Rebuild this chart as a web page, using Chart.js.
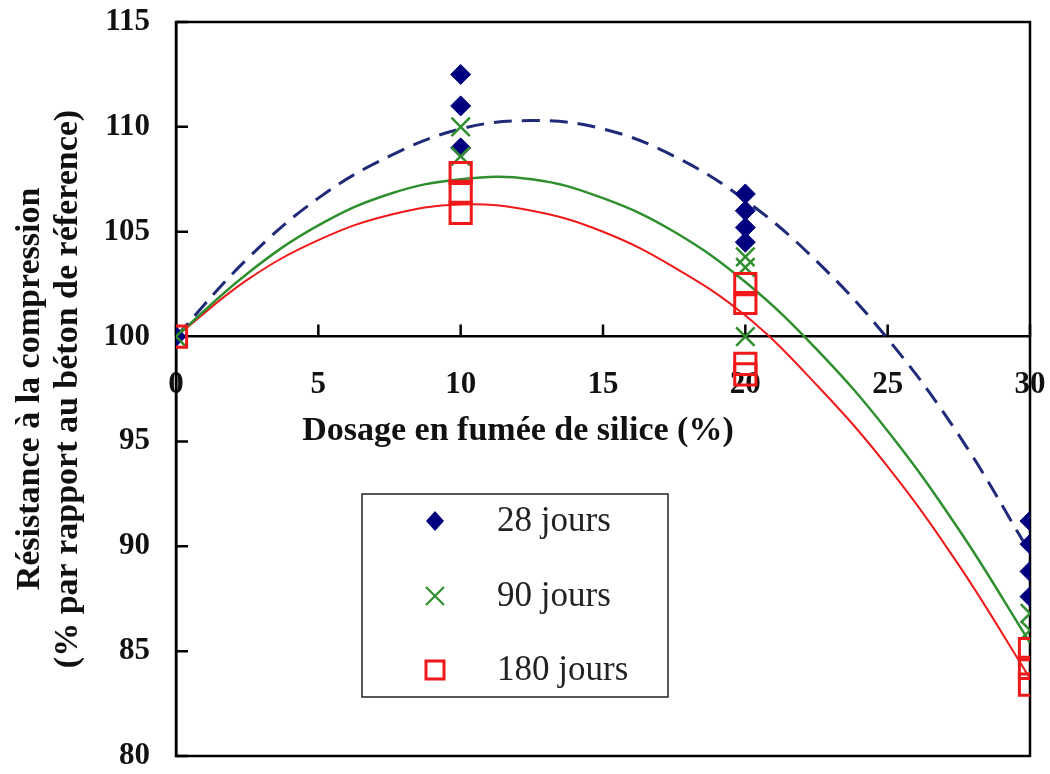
<!DOCTYPE html>
<html><head><meta charset="utf-8">
<script src="https://cdn.jsdelivr.net/npm/chart.js@4/dist/chart.umd.min.js"></script>
<style>html,body{margin:0;padding:0;background:#fff}</style>
</head><body>
<canvas id="c" width="1050" height="774"></canvas>
<script>
// ---- data ----
const seriesLabels = ['28 jours', '90 jours', '180 jours'];
const x28  = [0, 10, 10, 10, 20, 20, 20, 20, 30, 30, 30, 30];
const y28  = [100, 112.5, 111.0, 109.0, 106.8, 106.0, 105.2, 104.5, 91.2, 90.1, 88.8, 87.6];
const x90  = [0, 10, 10, 20, 20, 20, 30, 30];
const y90  = [100, 110.0, 108.6, 103.8, 103.3, 100.0, 86.8, 86.0];
const x180 = [0, 10, 10, 10, 20, 20, 20, 20, 30, 30, 30];
const y180 = [100, 107.8, 106.9, 105.9, 102.5, 101.6, 98.7, 98.2, 85.1, 84.2, 83.4];
// trend curves, read at regular dosage steps
const trendX   = [0, 2.5, 5, 7.5, 10, 12.5, 15, 17.5, 20, 22.5, 25, 27.5, 30];
const trend28  = [100, 103.7, 106.6, 108.6, 109.9, 110.3, 109.9, 108.6, 106.5, 103.6, 99.9, 95.3, 89.7];
const trend90  = [100, 103.0, 105.3, 106.8, 107.5, 107.5, 106.6, 105.0, 102.6, 99.4, 95.5, 90.8, 85.4];
const trend180 = [100, 102.7, 104.6, 105.8, 106.3, 106.0, 105.0, 103.3, 101.0, 97.7, 93.8, 89.1, 83.7];
const xTicks = [0, 5, 10, 15, 20, 25, 30];
const yTicks = [80, 85, 90, 95, 100, 105, 110, 115];
const xTitle = 'Dosage en fumée de silice (%)';
const yTitle = ['Résistance à la compression', '(% par rapport au béton de réference)'];

const NAVY = '#00007f', DASH = '#1f2a78', GREEN = '#2f8f2f', RED = '#f01818';
const SERIF = '"Liberation Serif", "Times New Roman", serif';

const pts = (xs, ys) => xs.map((x, i) => ({x: x, y: ys[i]}));
const noPad = s => { s.paddingTop = 0; s.paddingBottom = 0; s.paddingLeft = 0; s.paddingRight = 0; };

const frame = {
  id: 'frame',
  beforeDatasetsDraw(chart) {
    const {ctx, chartArea: a, scales: {x, y}} = chart;
    ctx.save();
    ctx.strokeStyle = '#000';
    ctx.lineWidth = 2.5;
    ctx.strokeRect(a.left, a.top, a.right - a.left, a.bottom - a.top);
    ctx.beginPath();
    y.ticks.forEach(t => { const py = y.getPixelForValue(t.value); ctx.moveTo(a.left, py); ctx.lineTo(a.left + 12, py); });
    const py0 = y.getPixelForValue(100);
    x.ticks.forEach(t => { const px = x.getPixelForValue(t.value); ctx.moveTo(px, py0); ctx.lineTo(px, py0 - 12); });
    ctx.stroke();
    // x axis title (sits left of centre in the reference)
    ctx.fillStyle = '#111';
    ctx.font = 'bold 34px ' + SERIF;
    ctx.textAlign = 'center';
    ctx.textBaseline = 'middle';
    ctx.fillText(xTitle, 518, py0 + 95);
    ctx.restore();
  }
};

const legendBox = {
  id: 'legendBox',
  afterDatasetsDraw(chart) {
    const ctx = chart.ctx;
    const L = 362, T = 494, R = 668, B = 697;
    ctx.save();
    ctx.fillStyle = '#fff';
    ctx.fillRect(L, T, R - L, B - T);
    ctx.strokeStyle = '#222';
    ctx.lineWidth = 1.5;
    ctx.strokeRect(L, T, R - L, B - T);
    const rows = [521, 596, 670];
    const mx = 435;
    ctx.fillStyle = NAVY;
    ctx.beginPath();
    ctx.moveTo(mx, rows[0] - 10); ctx.lineTo(mx + 9, rows[0]); ctx.lineTo(mx, rows[0] + 10); ctx.lineTo(mx - 9, rows[0]);
    ctx.closePath(); ctx.fill();
    ctx.strokeStyle = GREEN; ctx.lineWidth = 2.2;
    ctx.beginPath();
    ctx.moveTo(mx - 9, rows[1] - 9); ctx.lineTo(mx + 9, rows[1] + 9);
    ctx.moveTo(mx + 9, rows[1] - 9); ctx.lineTo(mx - 9, rows[1] + 9);
    ctx.stroke();
    ctx.strokeStyle = RED; ctx.lineWidth = 3;
    ctx.strokeRect(mx - 9, rows[2] - 9, 18, 18);
    ctx.fillStyle = '#222';
    ctx.font = '35px ' + SERIF;
    ctx.textBaseline = 'middle';
    ctx.textAlign = 'left';
    seriesLabels.forEach((s, i) => ctx.fillText(s, 497, rows[i] + 1));
    ctx.restore();
  }
};

new Chart(document.getElementById('c'), {
  type: 'scatter',
  data: {
    datasets: [
      {label: seriesLabels[0], data: pts(x28, y28), pointStyle: 'rectRot', pointRadius: 10,
       backgroundColor: NAVY, borderColor: NAVY, borderWidth: 1, order: 3},
      {label: seriesLabels[1], data: pts(x90, y90), pointStyle: 'crossRot', pointRadius: 13,
       backgroundColor: GREEN, borderColor: GREEN, borderWidth: 2.5, order: 2},
      {label: seriesLabels[2], data: pts(x180, y180), pointStyle: 'rect', pointRadius: 15,
       backgroundColor: 'rgba(0,0,0,0)', borderColor: RED, borderWidth: 3, order: 1},
      {type: 'line', label: 'tendance 28', data: pts(trendX, trend28), showLine: true, pointRadius: 0,
       borderColor: DASH, borderWidth: 3, borderDash: [18, 10], tension: 0.4, fill: false, order: 10},
      {type: 'line', label: 'tendance 90', data: pts(trendX, trend90), showLine: true, pointRadius: 0,
       borderColor: GREEN, borderWidth: 2.5, tension: 0.4, fill: false, order: 11},
      {type: 'line', label: 'tendance 180', data: pts(trendX, trend180), showLine: true, pointRadius: 0,
       borderColor: RED, borderWidth: 2, tension: 0.4, fill: false, order: 12}
    ]
  },
  options: {
    responsive: false,
    animation: false,
    devicePixelRatio: 1,
    events: [],
    layout: {padding: {top: 22, right: 20, bottom: 16, left: 0}},
    plugins: {legend: {display: false}, tooltip: {enabled: false}},
    scales: {
      x: {
        type: 'linear', min: 0, max: 30, position: {y: 100},
        afterBuildTicks: s => { s.ticks = xTicks.map(v => ({value: v})); },
        afterFit: noPad,
        grid: {display: false, drawTicks: false},
        border: {display: true, color: '#000', width: 2.5},
        ticks: {color: '#111', padding: 30, maxRotation: 0, autoSkip: false,
                font: {family: SERIF, size: 31, weight: 'bold'}},
        title: {display: false}
      },
      y: {
        type: 'linear', min: 80, max: 115, position: 'left',
        afterBuildTicks: s => { s.ticks = yTicks.map(v => ({value: v})); },
        afterFit: s => { noPad(s); s.width = 176; },
        grid: {display: false, drawTicks: false},
        border: {display: true, color: '#000', width: 2.5},
        ticks: {color: '#111', padding: 26, font: {family: SERIF, size: 31, weight: 'bold'}},
        title: {display: true, text: yTitle, color: '#111', padding: {top: 11, bottom: 0},
                font: {family: SERIF, size: 34, weight: 'bold', lineHeight: 1.12}}
      }
    }
  },
  plugins: [frame, legendBox]
});
</script>
</body></html>
